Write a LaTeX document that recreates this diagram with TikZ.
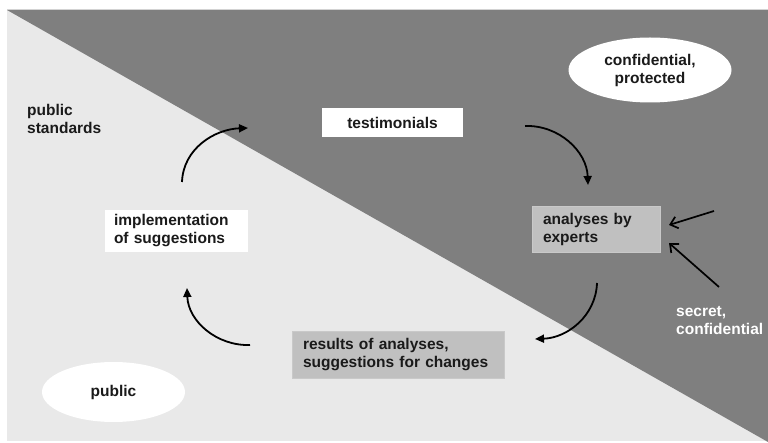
\documentclass[tikz,border=0pt]{standalone}
\usepackage{fontspec}
\setsansfont{Liberation Sans}
\usepackage{tikz}
\usetikzlibrary{arrows.meta, shapes.geometric}

\definecolor{darkzone}{HTML}{7F7F7F}
\definecolor{lightzone}{HTML}{E9E9E9}
\definecolor{boxgray}{HTML}{C0C0C0}
\definecolor{inkgray}{HTML}{1A1A1A}

\begin{document}
\begin{tikzpicture} [x=1pt, y=1pt,
	every node/.style={font=\sffamily\bfseries\fontsize{15.5}{18}\selectfont, text=inkgray},
	whitebox/.style={fill=white, inner ysep=0pt, minimum height=#1},
	greybox/.style={fill=boxgray, draw=boxgray!85!white, inner ysep=0pt, minimum height=#1},
	cloud/.style={ellipse, fill=white, inner sep=0pt, align=center},
	cyclearrow/.style={line width=1.8pt, -{Triangle[length=9pt, width=8pt]}},
	feedarrow/.style={line width=1.7pt, -{Straight Barb[length=7pt, width=12pt]}}]
	%    zones
	\useasboundingbox (0,0) rectangle (768,-443);
	\fill[white] (0,0) rectangle (768,-443);
	\fill[lightzone] (7,-10) rectangle (768,-441);
	\fill[darkzone] (7,-10) -- (768,-10) -- (768,-442) -- cycle;
	\draw[boxgray!70!white, line width=0.8pt] (7,-9.6) -- (768,-9.6);
	
	\node[whitebox=29pt, minimum width=141pt] (testim) at (392.5,-122.5) {testimonials};
	\node[whitebox=42pt, align=left, text width=125pt, inner xsep=9pt] (impl) at (176.5,-231)
		{implementation\\of suggestions};
	\node[greybox=46pt, align=left, text width=106pt, inner xsep=11pt] (expert) at (596,-229)
		{analyses by\\experts};
	\node[greybox=47pt, align=left, text width=190pt, inner xsep=11pt] (results) at (398,-354.5)
		{results of analyses,\\suggestions for changes};
	
	\node[cloud, minimum width=163pt, minimum height=65pt] (confid) at (650,-70) {confidential,\\protected};
	\node[cloud, minimum width=143pt, minimum height=60pt] (public) at (113.5,-392) {public};
	
	\node[anchor=west, align=left, inner sep=0pt] (stand) at (27,-119) {public\\standards};
	\node[anchor=west, align=left, inner sep=0pt, text=white] (secret) at (676,-321) {secret,\\confidential};
	
	% ends of the cycle arrows
	\coordinate (a1s) at (182,-182);   \coordinate (a1e) at (248,-128);
	\coordinate (a2s) at (525,-126);   \coordinate (a2e) at (588,-185);
	\coordinate (a3s) at (597,-283);   \coordinate (a3e) at (535,-339);
	\coordinate (a4s) at (250,-345);   \coordinate (a4e) at (187,-288);
	\coordinate (f1s) at (714,-211);   \coordinate (f1e) at (669,-225);
	\coordinate (f2s) at (719,-287);   \coordinate (f2e) at (669,-243);
	
	\draw[cyclearrow] (a1s) to[out=88, in=182] (a1e);
	\draw[cyclearrow] (a2s) to[out=2, in=92] (a2e);
	\draw[cyclearrow] (a3s) to[out=-92, in=2] (a3e);
	\draw[cyclearrow] (a4s) to[out=182, in=-88] (a4e);
	
	\draw[feedarrow] (f1s) -- (f1e);
	\draw[feedarrow] (f2s) -- (f2e);
	
\end{tikzpicture}
\end{document}
